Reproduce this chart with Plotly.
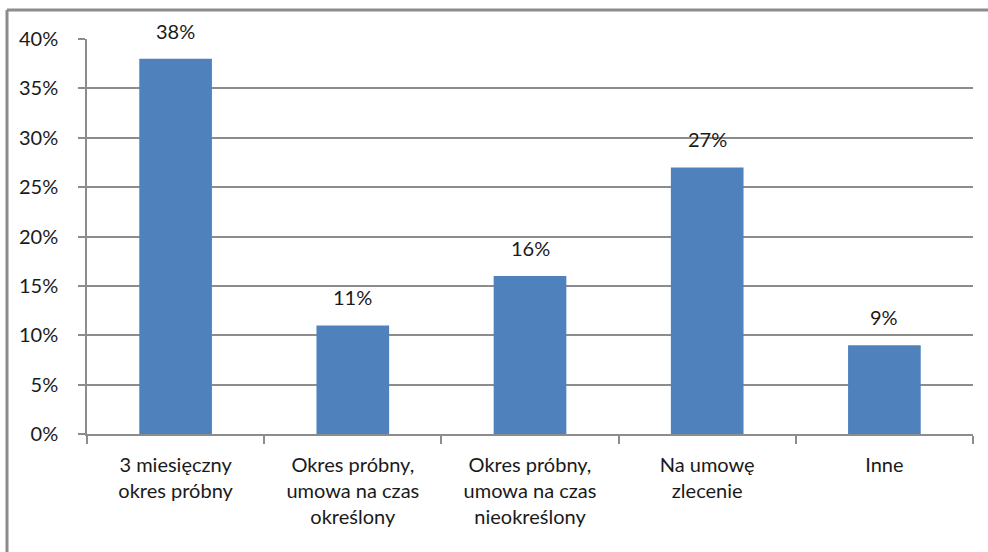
import plotly.graph_objects as go

categories = [
    "3 miesięczny<br>okres próbny",
    "Okres próbny,<br>umowa na czas<br>określony",
    "Okres próbny,<br>umowa na czas<br>nieokreślony",
    "Na umowę<br>zlecenie",
    "Inne",
]
shares = [0.38, 0.11, 0.16, 0.27, 0.09]
y_ticks = [0, 0.05, 0.10, 0.15, 0.20, 0.25, 0.30, 0.35, 0.40]

W, H = 988, 552
ML, MR, MT, MB = 87, 15, 39, 118
grey = "#8c8c8c"
font = dict(family="Lato, Open Sans, sans-serif", size=20, color="#1a1a1a")

fig = go.Figure(
    go.Bar(
        x=categories,
        y=shares,
        marker=dict(color="#4F81BD", line=dict(width=0)),
        hoverinfo="skip",
    )
)

# value labels above each bar
for cat, v in zip(categories, shares):
    fig.add_annotation(
        x=cat, y=v, text=f"{round(v * 100)}%", showarrow=False,
        yanchor="bottom", yshift=14, font=font,
    )

# frame of the chart area (top and left edges)
pw, ph = W - ML - MR, H - MT - MB
x0 = (7 - ML) / pw
y0 = (H - MB - 10) / ph
y1 = (H - MB - H) / ph
fig.add_shape(type="line", xref="paper", yref="paper", x0=x0, x1=(W - ML) / pw,
              y0=y0, y1=y0, line=dict(color=grey, width=3))
fig.add_shape(type="line", xref="paper", yref="paper", x0=x0, x1=x0,
              y0=y0, y1=y1, line=dict(color=grey, width=3))

fig.update_layout(
    width=W, height=H,
    margin=dict(l=ML, r=MR, t=MT, b=MB),
    paper_bgcolor="white", plot_bgcolor="white",
    bargap=0.59,
    showlegend=False,
    font=font,
    xaxis=dict(
        type="category", tickson="boundaries", ticks="outside", ticklen=8,
        tickcolor=grey, tickwidth=1.5, showline=True, linecolor=grey, linewidth=1.5,
        showgrid=False, tickfont=font, ticklabelstandoff=12,
    ),
    yaxis=dict(
        range=[0, 0.40], tickvals=y_ticks, tickformat=".0%",
        ticks="outside", ticklen=7, tickcolor=grey, tickwidth=1.5,
        showline=True, linecolor=grey, linewidth=1.5,
        showgrid=True, gridcolor=grey, gridwidth=1.5, zeroline=False,
        tickfont=font, ticklabelstandoff=16,
    ),
)

fig.write_html("out.html")
